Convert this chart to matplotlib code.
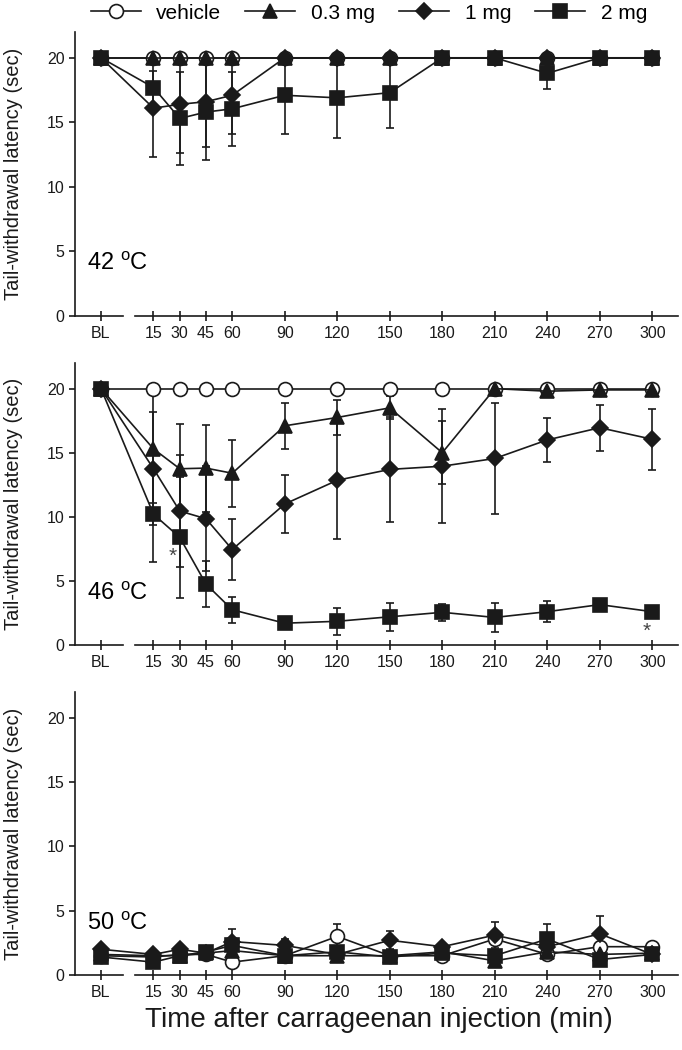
import matplotlib
matplotlib.use("Agg")
import matplotlib.pyplot as plt
import numpy as np

plt.rcParams['font.family'] = ['Liberation Sans', 'DejaVu Sans']
plt.rcParams['mathtext.default'] = 'regular'

# time points (BL plotted at -15)
times = [-15, 15, 30, 45, 60, 90, 120, 150, 180, 210, 240, 270, 300]
tick_labels = ['BL', '15', '30', '45', '60', '90', '120', '150', '180', '210', '240', '270', '300']
groups = ['vehicle', '0.3 mg', '1 mg', '2 mg']
cutoff = 20

# 42 oC
veh_42 = [20, 20, 20, 20, 20, 20, 20, 20, 20, 20, 20, 20, 20]
d03_42 = [20, 20, 20, 20, 20, 20, 20, 20, 20, 20, 20, 20, 20]
d1_42 = [20, 16.1, 16.4, 16.6, 17.1, 20, 20, 20, 20, 20, 20, 20, 20]
d2_42 = [20, 17.7, 15.3, 15.8, 16.05, 17.1, 16.9, 17.3, 20, 20, 18.8, 20, 20]
veh_42_sem = [0] * 13
d03_42_sem = [0] * 13
d1_42_sem = [0, 3.8, 3.8, 3.5, 3.0, 0, 0, 0, 0, 0, 0, 0, 0]
d2_42_sem = [0, 1.3, 3.6, 3.7, 2.85, 3.0, 3.1, 2.7, 0, 0, 1.2, 0, 0]

# 46 oC
veh_46 = [20, 20, 20, 20, 20, 20, 20, 20, 20, 20, 20, 20, 20]
d03_46 = [20, 15.3, 13.75, 13.8, 13.4, 17.1, 17.75, 18.5, 15.0, 20.0, 19.8, 19.9, 19.9]
d1_46 = [20, 13.75, 10.45, 9.85, 7.45, 11.0, 12.85, 13.7, 13.95, 14.55, 16.0, 16.95, 16.05]
d2_46 = [20, 10.2, 8.4, 4.75, 2.75, 1.7, 1.85, 2.2, 2.55, 2.15, 2.6, 3.15, 2.6]
veh_46_sem = [0] * 13
d03_46_sem = [0, 4.2, 3.5, 3.4, 2.6, 1.8, 1.4, 0.9, 2.45, 0, 0, 0, 0]
d1_46_sem = [0, 4.4, 4.4, 4.1, 2.4, 2.3, 4.6, 4.1, 4.45, 4.3, 1.7, 1.8, 2.4]
d2_46_sem = [0, 3.7, 4.7, 1.8, 1.0, 0.35, 1.05, 1.1, 0.65, 1.1, 0.8, 0.4, 0.4]

# 50 oC
veh_50 = [1.5, 1.4, 1.6, 1.6, 1.0, 1.5, 3.0, 1.5, 1.5, 2.8, 1.6, 2.2, 2.2]
d03_50 = [1.6, 1.5, 1.5, 1.7, 1.9, 1.5, 1.5, 1.5, 1.8, 1.1, 1.8, 1.6, 1.7]
d1_50 = [2.0, 1.6, 2.0, 1.7, 2.6, 2.3, 1.6, 2.7, 2.2, 3.1, 2.2, 3.2, 1.6]
d2_50 = [1.4, 1.0, 1.5, 1.8, 2.3, 1.5, 1.8, 1.4, 1.7, 1.5, 2.8, 1.2, 1.6]
veh_50_sem = [0.2, 0.2, 0.2, 0.2, 0.2, 0.2, 1.0, 0.2, 0.2, 0.3, 0.2, 0.4, 0.3]
d03_50_sem = [0.2, 0.2, 0.2, 0.2, 0.3, 0.2, 0.2, 0.2, 0.2, 0.3, 0.2, 0.3, 0.2]
d1_50_sem = [0.2, 0.2, 0.2, 0.2, 1.0, 0.5, 0.3, 0.7, 0.3, 1.0, 0.4, 1.4, 0.3]
d2_50_sem = [0.2, 0.3, 0.3, 0.3, 0.6, 0.3, 0.4, 0.3, 0.3, 0.4, 1.2, 0.3, 0.3]

panels = [
    ('42', [veh_42, d03_42, d1_42, d2_42], [veh_42_sem, d03_42_sem, d1_42_sem, d2_42_sem], []),
    ('46', [veh_46, d03_46, d1_46, d2_46], [veh_46_sem, d03_46_sem, d1_46_sem, d2_46_sem],
     [(26, 6.9), (297, 1.1)]),
    ('50', [veh_50, d03_50, d1_50, d2_50], [veh_50_sem, d03_50_sem, d1_50_sem, d2_50_sem], []),
]

ink = '#1a1a1a'
styles = [
    dict(marker='o', markersize=10, markerfacecolor='white'),
    dict(marker='^', markersize=10, markerfacecolor=ink),
    dict(marker='D', markersize=8.5, markerfacecolor=ink),
    dict(marker='s', markersize=9.5, markerfacecolor=ink),
]

W, H = 682, 1050
fig = plt.figure(figsize=(W / 100, H / 100), dpi=100)
boxes = [(32, 316), (363, 645), (692, 975)]  # pixel top, bottom
xmin, xmax = -29.85, 314.7

handles = []
for (top, bot), (temp, means, sems, stars) in zip(boxes, panels):
    ax = fig.add_axes([75 / W, 1 - bot / H, 603 / W, (bot - top) / H])
    for i, (m, s) in enumerate(zip(means, sems)):
        m = np.array(m)
        s = np.array(s)
        lo = s
        hi = np.minimum(m + s, cutoff) - m
        ax.errorbar(times, m, yerr=[lo, hi], fmt='none', ecolor=ink,
                    elinewidth=1.2, capsize=3, capthick=1.2, zorder=2)
    for i, m in enumerate(means):
        ln, = ax.plot(times, m, color=ink, lw=1.2, markeredgecolor=ink,
                      markeredgewidth=1.2, zorder=3 + i, clip_on=False, **styles[i])
        if temp == '42':
            handles.append(ln)
    for sx, sy in stars:
        ax.text(sx, sy, '*', fontsize=15, color='#444444', ha='center', va='center')
    ax.text(-23, 4, temp + r' $^{o}$C', fontsize=17, ha='left', va='center')

    ax.set_xlim(xmin, xmax)
    ax.set_ylim(0, 22)
    ax.set_yticks([0, 5, 10, 15, 20])
    ax.set_xticks(times)
    ax.set_xticklabels(tick_labels)
    for sp in ['top', 'right', 'bottom']:
        ax.spines[sp].set_visible(False)
    ax.spines['left'].set_color(ink)
    ax.spines['left'].set_linewidth(1.2)
    trans = ax.get_xaxis_transform()
    ax.plot([xmin, -2.4], [0, 0], transform=trans, color=ink, lw=1.2, clip_on=False)
    ax.plot([4.6, xmax], [0, 0], transform=trans, color=ink, lw=1.2, clip_on=False)
    ax.tick_params(axis='y', direction='out', length=4.5, width=1.2, color=ink,
                   labelsize=11.5, labelcolor=ink, pad=3)
    ax.tick_params(axis='x', direction='inout', length=7, width=1.2, color=ink,
                   labelsize=11.5, labelcolor=ink, pad=4)
    ax.set_ylabel('Tail-withdrawal latency (sec)', fontsize=14.5, color=ink)
    ax.yaxis.set_label_coords(-0.086, 0.5)

fig.text(0.556, 0.0286, 'Time after carrageenan injection (min)', fontsize=20,
         ha='center', va='center', color=ink)
fig.legend(handles, groups, loc='center', bbox_to_anchor=(0.541, 0.9876), ncol=4,
           frameon=False, fontsize=15, handlelength=2.4, handletextpad=0.75,
           columnspacing=1.15)

fig.savefig('out.png', dpi=100)
